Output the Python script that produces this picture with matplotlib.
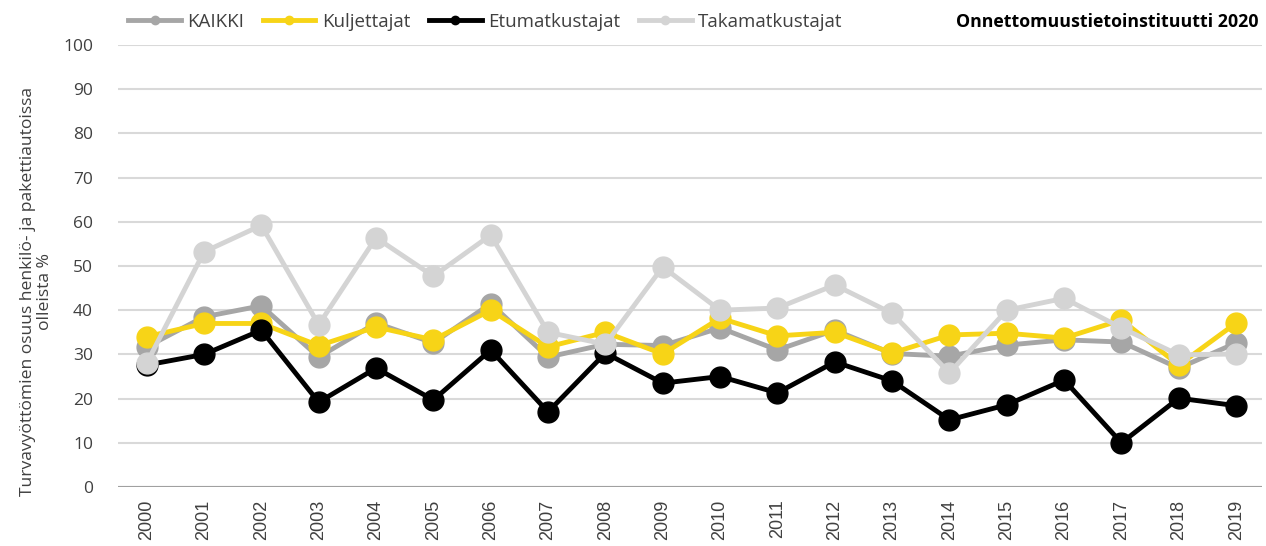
import numpy as np
import matplotlib
matplotlib.use('Agg')
from matplotlib import pyplot as plt
from matplotlib.lines import Line2D

plt.rcParams['font.family'] = ['Open Sans', 'DejaVu Sans']

years = [str(y) for y in range(2000, 2020)]
kaikki = [31.7, 38.5, 41, 29.4, 37.1, 32.6, 41.5, 29.4, 32.3, 32, 36, 31, 35.5, 30.2, 29.6, 32.1, 33.3, 32.8, 26.9, 32.6]
kuljettajat = [34, 37, 37, 32, 36.2, 33.3, 40, 31.7, 35, 30.1, 38.2, 34.2, 35, 30.3, 34.4, 34.8, 33.7, 37.8, 27.6, 37.1]
etumatkustajat = [27.6, 30, 35.5, 19.2, 26.9, 19.7, 31, 17, 30.3, 23.5, 25, 21.3, 28.3, 24, 15.2, 18.6, 24.2, 10, 20.1, 18.4]
takamatkustajat = [28, 53.2, 59.2, 36.7, 56.4, 47.7, 57, 35, 32.3, 49.8, 40, 40.5, 45.7, 39.3, 25.8, 40, 42.7, 36, 29.9, 30.1]

series = [
    ('KAIKKI', kaikki, '#A6A6A6'),
    ('Kuljettajat', kuljettajat, '#F7D417'),
    ('Etumatkustajat', etumatkustajat, '#000000'),
    ('Takamatkustajat', takamatkustajat, '#D4D4D4'),
]

fig = plt.figure(figsize=(12.66, 5.46), dpi=100)
ax = fig.add_axes([0.0932, 0.108, 0.9036, 0.8096])

x = np.arange(len(years))
for i, (name, vals, col) in enumerate(series):
    ax.plot(x, vals, color=col, lw=3.5, marker='o', ms=15, zorder=3 + i)

ax.set_ylim(0, 100)
ax.set_yticks(range(0, 101, 10))
ax.set_xlim(-0.5, 19.45)
ax.set_xticks(x)
ax.set_xticklabels(years, rotation=90, family=['Liberation Sans', 'DejaVu Sans'], fontsize=13)
ax.tick_params(axis='both', length=0, colors='#404040')
ax.tick_params(axis='y', labelsize=12.5, pad=18)
ax.tick_params(axis='x', pad=9)
ax.grid(axis='y', color='#D9D9D9', lw=1.5)
ax.axhline(0, color='#A0A0A0', lw=1.5, zorder=2)
ax.set_axisbelow(True)
for s in ax.spines.values():
    s.set_visible(False)

ax.set_ylabel('Turvavyöttömien osuus henkilö- ja pakettiautoissa\nolleista %',
              fontsize=12.6, color='#404040', linespacing=1.05)
ax.yaxis.set_label_coords(-0.057, 0.443)

handles = [Line2D([], [], color=c, lw=3.5, marker='o', ms=6) for _, _, c in series]
fig.legend(handles, [s[0] for s in series], loc='center left', bbox_to_anchor=(0.088, 0.96),
           ncol=4, frameon=False, fontsize=13.5, handlelength=2.8, handletextpad=0.35,
           columnspacing=1.0, labelcolor='#404040')

fig.text(0.994, 0.96, 'Onnettomuustietoinstituutti 2020', ha='right', va='center',
         fontsize=12.8, fontweight='bold', color='#000000')

plt.savefig('out.png', dpi=100)
